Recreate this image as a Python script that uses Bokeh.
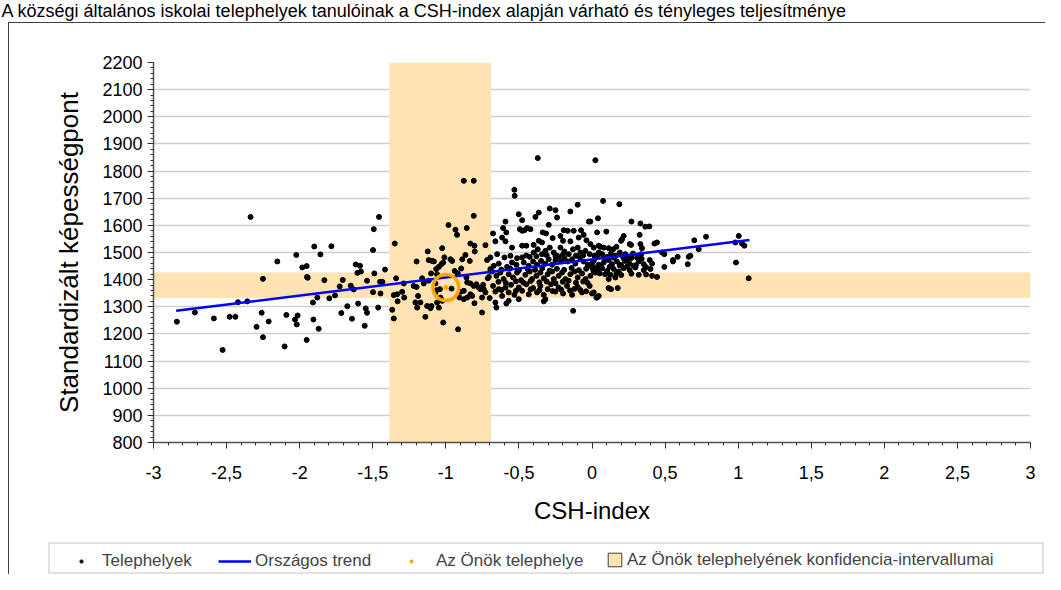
from bokeh.plotting import figure
from bokeh.layouts import column, row
from bokeh.models import (FixedTicker, Legend, LegendItem, Label, BoxAnnotation, Range1d, Spacer)
from bokeh.embed import file_html
from bokeh.resources import INLINE

# ---------------- texts ----------------
title_text = ("A községi általános iskolai telephelyek tanulóinak a CSH-index alapján "
              "várható és tényleges teljesítménye")
x_axis_title = "CSH-index"
y_axis_title = "Standardizált képességpont"
legend_labels = ["Telephelyek", "Országos trend", "Az Önök telephelye",
                 "Az Önök telephelyének konfidencia-intervallumai"]

# ---------------- ticks ----------------
x_ticks = [-3, -2.5, -2, -1.5, -1, -0.5, 0, 0.5, 1, 1.5, 2, 2.5, 3]
x_tick_labels = ["-3", "-2,5", "-2", "-1,5", "-1", "-0,5", "0", "0,5", "1", "1,5", "2", "2,5", "3"]
y_ticks = [800, 900, 1000, 1100, 1200, 1300, 1400, 1500, 1600, 1700, 1800, 1900, 2000, 2100, 2200]

# ---------------- series ----------------
trend_x = [-2.845, 1.077]
trend_y = [1285, 1546]

own_x = [-1.0]
own_y = [1371]

ci_x = [-1.386, -0.69]      # CSH-index confidence interval
ci_y = [1332, 1426]         # score confidence interval

# sites (west part)
west_x = [-2.84, -2.717, -2.587, -2.527, -2.479, -2.44, -2.422, -2.358, -2.336, -2.295,
          -2.26, -2.251, -2.251, -2.212, -2.153, -2.103, -2.091, -2.032, -2.023, -2.02,
          -2.014, -1.982, -1.952, -1.95, -1.945, -1.952, -1.909, -1.906, -1.9, -1.879,
          -1.87, -1.858, -1.831, -1.797, -1.783, -1.758, -1.726, -1.715, -1.705, -1.674,
          -1.651, -1.642, -1.63, -1.616, -1.605, -1.587, -1.58, -1.6, -1.555, -1.548,
          -1.539, -1.539, -1.498, -1.493, -1.489, -1.498, -1.463, -1.457, -1.447, -1.45,
          -1.434, -1.416]
west_y = [1245, 1279, 1257, 1141, 1263, 1263, 1317, 1320, 1631, 1226,
          1278, 1403, 1188, 1246, 1467, 1154, 1270, 1253, 1491, 1235,
          1268, 1445, 1450, 1410, 1407, 1178, 1316, 1253, 1522, 1334,
          1219, 1493, 1398, 1331, 1523, 1342, 1375, 1277, 1399, 1302,
          1378, 1256, 1364, 1456, 1425, 1451, 1430, 1312, 1230, 1294,
          1278, 1396, 1509, 1586, 1423, 1354, 1297, 1631, 1349, 1392,
          1392, 1437]

# sites inside the CSH confidence band
inner_x = [-1.349, -1.34, -1.356, -1.333, -1.33, -1.367, -1.356, -1.299, -1.285, -1.288,
           -1.22, -1.2, -1.2, -1.19, -1.208, -1.196, -1.162, -1.174, -1.14, -1.124,
           -1.117, -1.094, -1.082, -1.098, -1.105, -1.128, -1.066, -1.071, -1.064, -1.041,
           -1.025, -1.018, -1.03, -1.01, -1.037, -1.025, -1.06, -1.048, -1.018, -0.982,
           -0.968, -0.961, -0.957, -0.934, -0.923, -0.939, -0.918, -0.916, -0.907, -0.888,
           -0.895, -0.877, -0.809, -0.857, -0.866, -0.859, -0.854, -0.836, -0.832, -0.809,
           -0.804, -0.802, -0.832, -0.82, -0.854, -0.877, -0.809, -0.791, -0.775, -0.763,
           -0.745, -0.729, -0.718, -0.713, -0.706, -0.729, -0.752, -0.741, -0.752, -0.695,
           -0.695, -0.7, -0.804, -0.832, -0.877, -0.9, -1.151, -1.101, -1.117, -1.06,
           -1.048, -1.071]
inner_y = [1533, 1405, 1343, 1346, 1320, 1289, 1257, 1355, 1334, 1386,
           1377, 1373, 1467, 1340, 1316, 1297, 1405, 1316, 1263, 1504,
           1472, 1469, 1467, 1303, 1295, 1303, 1439, 1386, 1361, 1365,
           1516, 1463, 1457, 1482, 1334, 1322, 1316, 1297, 1242, 1601,
           1475, 1367, 1469, 1584, 1565, 1432, 1423, 1217, 1334, 1475,
           1441, 1764, 1764, 1590, 1491, 1408, 1390, 1469, 1533, 1635,
           1525, 1504, 1346, 1340, 1334, 1328, 1377, 1383, 1371, 1365,
           1381, 1527, 1472, 1405, 1410, 1353, 1334, 1365, 1279, 1439,
           1432, 1332, 1313, 1386, 1359, 1355, 1386, 1423, 1396, 1420,
           1447, 1353]

# sites in the central cluster (-0.7 .. 0.05)
central_sites = [
    (-0.371, 1848), (0.023, 1840), (-0.531, 1731), (-0.529, 1709), (-0.501, 1641), (-0.364, 1647),
    (-0.387, 1631), (-0.289, 1662), (-0.25, 1656), (-0.239, 1629), (-0.148, 1651), (-0.098, 1676),
    (-0.022, 1614), (-0.011, 1614), (0.041, 1626), (-0.592, 1614), (-0.608, 1590), (-0.586, 1574),
    (-0.478, 1619), (-0.494, 1586), (-0.478, 1580), (-0.462, 1582), (-0.444, 1590), (-0.421, 1586),
    (-0.296, 1602), (-0.337, 1574), (-0.314, 1570), (-0.193, 1582), (-0.166, 1580), (-0.125, 1580),
    (-0.075, 1582), (-0.057, 1565), (-0.677, 1570), (-0.615, 1555), (-0.592, 1541), (-0.661, 1541),
    (-0.547, 1518), (-0.478, 1525), (-0.449, 1525), (-0.399, 1528), (-0.364, 1543), (-0.342, 1537),
    (-0.269, 1553), (-0.216, 1561), (-0.198, 1543), (-0.148, 1541), (-0.091, 1555), (-0.038, 1545),
    (-0.011, 1531), (0.012, 1518), (0.046, 1525), (-0.695, 1482), (-0.649, 1494), (-0.599, 1482),
    (-0.558, 1488), (-0.513, 1479), (-0.478, 1482), (-0.426, 1484), (-0.399, 1500), (-0.371, 1512),
    (-0.342, 1494), (-0.319, 1506), (-0.289, 1518), (-0.262, 1500), (-0.239, 1488), (-0.216, 1518),
    (-0.189, 1504), (-0.159, 1494), (-0.13, 1512), (-0.098, 1518), (-0.079, 1500), (-0.045, 1506),
    (-0.016, 1494), (0.016, 1488), (0.046, 1500),
    (-0.672, 1451), (-0.638, 1459), (-0.581, 1447), (-0.547, 1463), (-0.517, 1455), (-0.467, 1463),
    (-0.433, 1451), (-0.403, 1467), (-0.376, 1455), (-0.348, 1469), (-0.319, 1459), (-0.296, 1475),
    (-0.273, 1455), (-0.25, 1472), (-0.228, 1484), (-0.212, 1467), (-0.189, 1479), (-0.166, 1467),
    (-0.136, 1475), (-0.114, 1459), (-0.084, 1482), (-0.057, 1467), (-0.029, 1455), (0.0, 1459),
    (0.03, 1445),
    (-0.684, 1430), (-0.654, 1414), (-0.627, 1426), (-0.604, 1402), (-0.57, 1420), (-0.54, 1408),
    (-0.513, 1426), (-0.485, 1398), (-0.456, 1418), (-0.426, 1430), (-0.41, 1402), (-0.38, 1414),
    (-0.353, 1426), (-0.33, 1405), (-0.303, 1420), (-0.273, 1430), (-0.262, 1402), (-0.228, 1414),
    (-0.205, 1426), (-0.182, 1402), (-0.148, 1420), (-0.12, 1430), (-0.098, 1408), (-0.068, 1423),
    (-0.045, 1402), (-0.011, 1414), (0.023, 1426),
    (-0.677, 1377), (-0.661, 1356), (-0.638, 1365), (-0.615, 1340), (-0.592, 1371), (-0.57, 1353),
    (-0.554, 1381), (-0.531, 1344), (-0.501, 1371), (-0.478, 1359), (-0.449, 1383), (-0.433, 1346),
    (-0.403, 1369), (-0.376, 1353), (-0.353, 1377), (-0.33, 1344), (-0.303, 1365), (-0.28, 1383),
    (-0.25, 1356), (-0.228, 1371), (-0.198, 1349), (-0.171, 1377), (-0.136, 1344), (-0.098, 1373),
    (-0.068, 1353), (-0.016, 1377), (0.0, 1349),
    (-0.661, 1316), (-0.654, 1297), (-0.586, 1312), (-0.57, 1322), (-0.501, 1328), (-0.33, 1320),
    (-0.319, 1328), (-0.129, 1285), (0.03, 1334),
]

# further sites in the densest part of the cloud
dense_sites = [
    (-0.62, 1437), (-0.56, 1441), (-0.50, 1434), (-0.44, 1439), (-0.39, 1436), (-0.34, 1442),
    (-0.29, 1433), (-0.24, 1440), (-0.19, 1436), (-0.14, 1443), (-0.09, 1435), (-0.04, 1440),
    (0.01, 1432),
    (-0.64, 1392), (-0.59, 1388), (-0.52, 1394), (-0.47, 1389), (-0.42, 1395), (-0.36, 1390),
    (-0.31, 1393), (-0.25, 1387), (-0.20, 1392), (-0.16, 1396), (-0.11, 1389), (-0.06, 1393),
    (-0.03, 1388),
    (-0.45, 1489), (-0.38, 1486), (-0.31, 1490), (-0.25, 1487), (-0.20, 1491), (-0.11, 1488),
    (-0.06, 1490),
    (-0.62, 1362), (-0.52, 1359), (-0.42, 1364), (-0.36, 1361), (-0.27, 1358), (-0.21, 1363),
    (-0.15, 1360), (-0.12, 1366), (-0.08, 1362), (-0.04, 1357),
    (0.06, 1450), (0.12, 1447), (0.19, 1452), (0.24, 1448), (0.30, 1453), (0.37, 1446),
    (0.09, 1478), (0.15, 1481), (0.22, 1476), (0.27, 1480), (0.34, 1477),
    (0.09, 1420), (0.20, 1417), (0.27, 1422), (0.37, 1419),
]

# sites east of zero
east_sites = [
    (0.076, 1690), (0.187, 1678), (0.27, 1614), (0.331, 1607), (0.365, 1595), (0.393, 1596),
    (0.035, 1574), (0.098, 1577), (0.217, 1561), (0.206, 1549), (0.199, 1543), (0.326, 1565),
    (0.057, 1521), (0.08, 1518), (0.114, 1516), (0.144, 1512), (0.167, 1521), (0.258, 1531),
    (0.267, 1528), (0.331, 1531), (0.342, 1516), (0.427, 1533), (0.445, 1537), (0.7, 1545),
    (0.73, 1512), (0.035, 1488), (0.069, 1494), (0.103, 1484), (0.13, 1496), (0.16, 1488),
    (0.19, 1500), (0.212, 1484), (0.228, 1494), (0.251, 1479), (0.281, 1496), (0.308, 1481),
    (0.336, 1494), (0.479, 1500), (0.495, 1494), (0.554, 1472), (0.586, 1484), (0.662, 1484),
    (0.012, 1469), (0.046, 1455), (0.08, 1463), (0.114, 1472), (0.137, 1457), (0.171, 1467),
    (0.199, 1455), (0.228, 1469), (0.258, 1459), (0.285, 1451), (0.32, 1467), (0.354, 1457),
    (0.395, 1472), (0.411, 1459), (0.0, 1445), (0.035, 1435), (0.069, 1442), (0.103, 1432),
    (0.149, 1439), (0.183, 1430), (0.217, 1442), (0.258, 1435), (0.297, 1445), (0.354, 1435),
    (0.4, 1439), (0.495, 1447), (0.554, 1467), (0.655, 1457), (0.053, 1423), (0.126, 1418),
    (0.16, 1408), (0.167, 1423), (0.32, 1418), (0.411, 1414), (0.445, 1410), (0.012, 1353),
    (0.035, 1334), (0.046, 1340), (0.114, 1402), (0.114, 1369), (0.13, 1365), (0.176, 1369),
    (0.78, 1558), (0.673, 1488), (1.004, 1561), (0.981, 1537), (1.026, 1533), (1.042, 1525),
    (0.985, 1463), (1.072, 1405),
]

site_x = (west_x + inner_x + [s[0] for s in central_sites] + [s[0] for s in dense_sites]
          + [s[0] for s in east_sites])
site_y = (west_y + inner_y + [s[1] for s in central_sites] + [s[1] for s in dense_sites]
          + [s[1] for s in east_sites])

# ---------------- styles ----------------
FONT = "Liberation Sans"
BAND = "#FFE3B3"
ORANGE = "#FFA500"
BLUE = "#0000FF"
FRAME = "#404040"


def blank_fig(w, h):
    f = figure(width=w, height=h, min_border=0, x_range=Range1d(0, w), y_range=Range1d(0, h),
               output_backend="svg", toolbar_location=None)
    f.axis.visible = False
    f.grid.visible = False
    f.outline_line_color = None
    return f


# ---------------- title strip ----------------
t = blank_fig(1045, 22)
t.add_layout(Label(x=1, y=11.5, text=title_text, text_font=FONT, text_font_size="18px",
                   text_baseline="middle", text_color="black"))

# ---------------- main chart ----------------
p = figure(frame_width=877, frame_height=380,
           min_border_left=144, min_border_right=15, min_border_top=39, min_border_bottom=90,
           x_range=Range1d(x_ticks[0], x_ticks[-1]), y_range=Range1d(y_ticks[0], y_ticks[-1]),
           output_backend="svg", toolbar_location=None)
p.outline_line_color = None

p.xgrid.visible = False
p.ygrid.ticker = FixedTicker(ticks=y_ticks)
p.ygrid.grid_line_color = "#cfcfcf"
p.ygrid.grid_line_width = 1.5

p.xaxis.ticker = FixedTicker(ticks=x_ticks,
                             minor_ticks=[round(x_ticks[0] + 0.1 * i, 2) for i in range(61)])
p.xaxis.major_label_overrides = dict(zip(x_ticks, x_tick_labels))
p.yaxis.ticker = FixedTicker(ticks=y_ticks,
                             minor_ticks=[y_ticks[0] + 20 * i for i in range(71)])
for ax in (p.xaxis[0], p.yaxis[0]):
    ax.axis_line_color = "#505050"
    ax.axis_line_width = 1.5
    ax.major_tick_line_color = "#303030"
    ax.minor_tick_line_color = "#303030"
    ax.major_tick_in = 0
    ax.major_tick_out = 6
    ax.minor_tick_in = 0
    ax.minor_tick_out = 3
    ax.major_label_text_font = FONT
    ax.major_label_text_font_size = "18px"
    ax.major_label_text_color = "black"
    ax.axis_label_text_font = FONT
    ax.axis_label_text_font_style = "normal"
    ax.axis_label_text_color = "black"
p.xaxis.axis_label = x_axis_title
p.yaxis.axis_label = y_axis_title
p.xaxis.axis_label_text_font_size = "24px"
p.yaxis.axis_label_text_font_size = "26px"
p.xaxis.major_label_standoff = 17
p.yaxis.major_label_standoff = 5
p.xaxis.axis_label_standoff = 15
p.yaxis.axis_label_standoff = 15

# confidence bands
p.quad(left=[ci_x[0]], right=[ci_x[1]], bottom=[y_ticks[0]], top=[y_ticks[-1]],
       fill_color=BAND, line_alpha=0)
p.quad(left=[x_ticks[0]], right=[x_ticks[-1]], bottom=[ci_y[0]], top=[ci_y[1]],
       fill_color=BAND, line_alpha=0)

# sites
p.scatter(site_x, site_y, size=5, color="black", marker="circle")
# national trend
p.line(trend_x, trend_y, line_color=BLUE, line_width=2.5)
# own site: ring + dot
p.scatter(own_x, own_y, size=26, marker="circle", fill_alpha=0, line_color=ORANGE, line_width=3.5)
p.scatter(own_x, own_y, size=4, marker="circle", color=ORANGE)

# ---------------- legend strip ----------------
LW, LH = 1036, 42
lg_fig = blank_fig(LW, LH)
# legend key proxies: one point each, placed outside the strip's visible range
proxy = [-100]
k_sites = lg_fig.scatter(x=proxy, y=proxy, size=5, color="black", marker="circle")
k_trend = lg_fig.line(x=[-200, -100], y=proxy * 2, line_color=BLUE, line_width=2.5)
k_own = lg_fig.scatter(x=proxy, y=proxy, size=4, color=ORANGE, marker="circle")
k_ci = lg_fig.quad(left=[-200], right=proxy, bottom=[-200], top=proxy, fill_color=BAND,
                   line_color=FRAME, line_width=1)
lg_fig.add_layout(BoxAnnotation(left=39.5, right=1033.5, bottom=1.5, top=31.5,
                                fill_color="white", fill_alpha=1, line_color=FRAME,
                                line_width=1, level="underlay"))
legend_specs = [
    (k_sites, 68, 8, 20, 17, 3),
    (k_trend, 209, 33, 20, 4, 3),
    (k_own, 398, 8, 20, 21, 3),
    (k_ci, 597, 17, 17, 4, 4.5),
]
for (rend, vx, gw, gh, so, vy), lab in zip(legend_specs, legend_labels):
    lg = Legend(items=[LegendItem(label=lab, renderers=[rend])], location=(vx, vy),
                orientation="horizontal", glyph_width=gw, glyph_height=gh, label_standoff=so,
                padding=0, margin=0, spacing=0, border_line_alpha=0, background_fill_alpha=0,
                label_text_font=FONT, label_text_font_size="17px", label_height=gh)
    lg_fig.add_layout(lg)

p_box = column(p, styles={"border-left": "1px solid " + FRAME, "border-top": "1px solid " + FRAME})
lg_box = column(lg_fig, styles={"border-left": "1px solid " + FRAME})
layout = column(t, row(Spacer(width=8, height=10), column(p_box, lg_box, spacing=0), spacing=0),
                spacing=0)

open("out.html", "w").write(file_html(layout, INLINE))
